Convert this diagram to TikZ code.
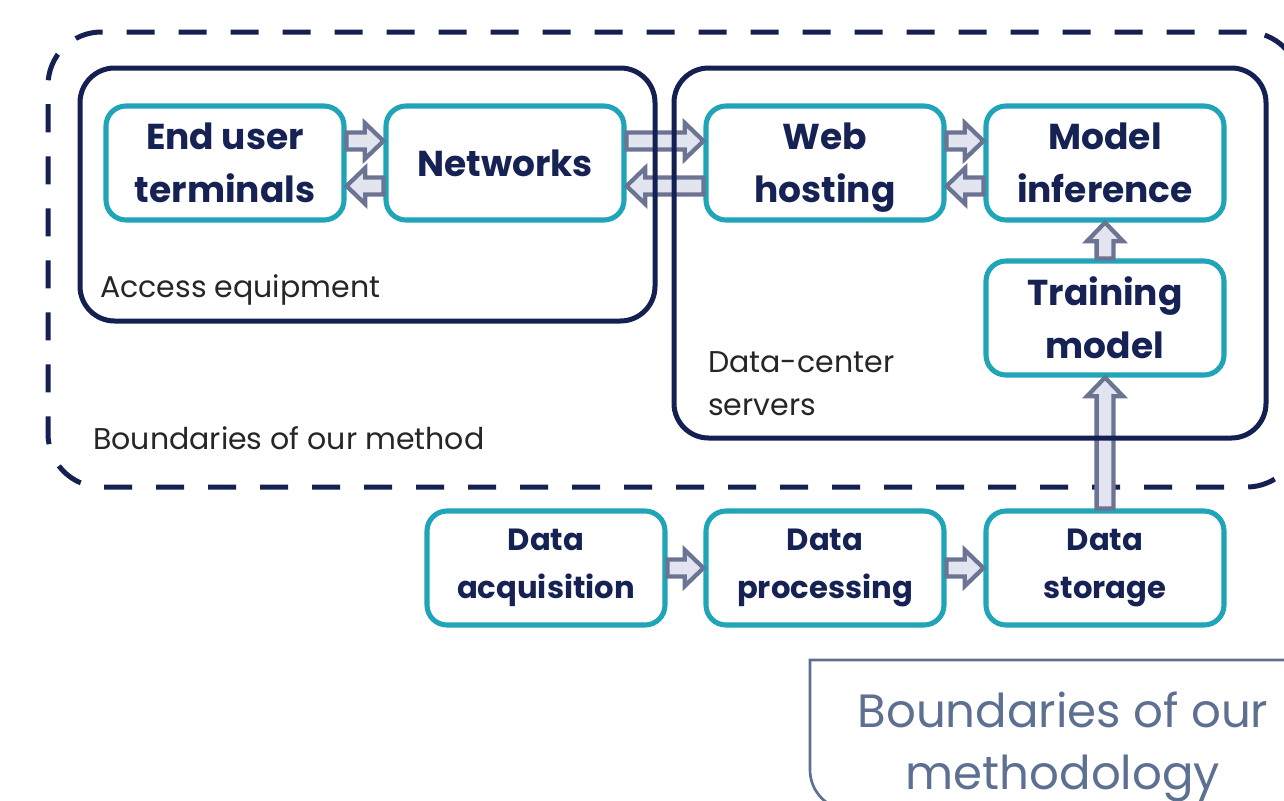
\documentclass[tikz,border=0pt]{standalone}
\usepackage{fontspec}
\setmainfont{Poppins}
\usetikzlibrary{calc}
\definecolor{navy}{RGB}{22,34,84}
\definecolor{regionnavy}{RGB}{20,32,82}
\definecolor{tealc}{RGB}{32,164,184}
\definecolor{arrgray}{RGB}{108,116,148}
\definecolor{arrfill}{RGB}{226,229,240}
\definecolor{calloutc}{RGB}{94,112,146}
\tikzset{
  proc/.style={draw=tealc, line width=3.8pt, rounded corners=15pt, fill=white,
    minimum width=178.5pt, minimum height=85.5pt, inner sep=0pt, align=center,
    text=navy, font=\bfseries\fontsize{27}{40}\selectfont},
  dproc/.style={proc, font=\bfseries\fontsize{23}{36}\selectfont},
  region/.style={draw=regionnavy, line width=3.75pt, rounded corners=26pt,
    inner sep=0pt},
  boundary/.style={draw=regionnavy, line width=3.75pt, rounded corners=40pt,
    dash pattern=on 21pt off 18pt, inner sep=0pt},
  lbl/.style={text=black!85, font=\fontsize{22.5}{32}\selectfont, inner sep=0pt},
  callout/.style={draw=calloutc, line width=2pt},
  callouttext/.style={text=calloutc, font=\fontsize{35}{48}\selectfont, align=center, inner sep=0pt},
  blockarr/.style={draw=arrgray, fill=arrfill, line width=3.2pt, line join=miter,
    to path={
      let \p1=($(\tikztotarget)!14pt!(\tikztostart)$) in
      ($(\tikztostart)!6.3pt!90:(\tikztotarget)$) --
      ($(\p1)!6.3pt!90:(\tikztotarget)$) --
      ($(\p1)!13.5pt!90:(\tikztotarget)$) --
      (\tikztotarget) --
      ($(\p1)!13.5pt!-90:(\tikztotarget)$) --
      ($(\p1)!6.3pt!-90:(\tikztotarget)$) --
      ($(\tikztostart)!6.3pt!-90:(\tikztotarget)$) -- cycle}}
}
\begin{document}
\begin{tikzpicture}[x=0.75pt,y=-0.75pt]
\useasboundingbox (0,0) rectangle (1284,800);
\clip (0,0) rectangle (1284,800);
\fill[white] (0,0) rectangle (1284,800);

% outer dashed boundary
\node[boundary, minimum width=939pt, minimum height=341.25pt] (bound) at (674,259.5) {};

% process boxes
\node[proc] (eu) at (225,163) {End user\\terminals};
\node[proc] (net) at (505,163) {Networks};
\node[proc, text depth=0pt] (web) at (825,163) {Web\\hosting};
\node[proc] (mi) at (1105,163) {Model\\inference};
\node[proc] (tm) at (1105,318) {Training\\model};
\node[dproc] (da) at (546,568) {Data\\acquisition};
\node[dproc] (dp) at (825,568) {Data\\processing};
\node[dproc] (ds) at (1105,568) {Data\\storage};

% arrow end points
\coordinate (a1s) at ($(eu.east)+(0,-22)$);
\coordinate (a1t) at ($(net.west)+(0,-22)$);
\coordinate (a2s) at ($(net.west)+(0,23)$);
\coordinate (a2t) at ($(eu.east)+(0,23)$);
\coordinate (a3s) at ($(net.east)+(0,-22)$);
\coordinate (a3t) at ($(web.west)+(0,-22)$);
\coordinate (a4s) at ($(web.west)+(0,23)$);
\coordinate (a4t) at ($(net.east)+(0,23)$);
\coordinate (a5s) at ($(web.east)+(0,-22)$);
\coordinate (a5t) at ($(mi.west)+(0,-22)$);
\coordinate (a6s) at ($(mi.west)+(0,23)$);
\coordinate (a6t) at ($(web.east)+(0,23)$);

\path[blockarr] (a1s) to (a1t);
\path[blockarr] (a2s) to (a2t);
\path[blockarr] (a3s) to (a3t);
\path[blockarr] (a4s) to (a4t);
\path[blockarr] (a5s) to (a5t);
\path[blockarr] (a6s) to (a6t);
\path[blockarr] (tm.north) to (mi.south);
\path[blockarr] (ds.north) to (tm.south);
\path[blockarr] (da.east) to (dp.west);
\path[blockarr] (dp.east) to (ds.west);

% region boxes
\node[region, minimum width=431.25pt, minimum height=189.75pt] (access) at (367.5,194.5) {};
\node[region, minimum width=444pt, minimum height=277.5pt] (dc) at (970,253) {};

% labels
\node[lbl, anchor=base west] (accl) at (100,297) {Access equipment};
\node[lbl, anchor=base west] (dcl) at (708,372) {Data-center};
\node[lbl, anchor=base west] (dcl2) at (708,415) {servers};
\node[lbl, anchor=base west] (bl) at (93,449) {Boundaries of our method};

% callout
\draw[callout] (810,660) -- (1290,660) .. controls (1312,660) and (1330,678) .. (1330,700)
  -- (1330,770) .. controls (1330,792) and (1312,810) .. (1290,810)
  -- (850,810) .. controls (828,810) and (810,792) .. (810,770) -- cycle;
\node[callouttext, anchor=base] (ct1) at (1063,727) {Boundaries of our};
\node[callouttext, anchor=base] (ct2) at (1063,789) {methodology};
\end{tikzpicture}
\end{document}
